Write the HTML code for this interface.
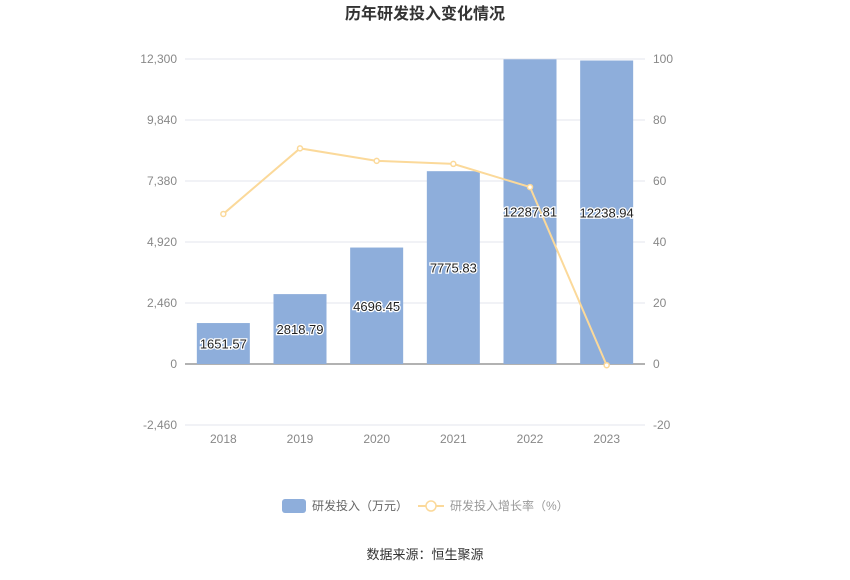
<!DOCTYPE html>
<html><head><meta charset="utf-8"><style>
body{margin:0;background:#fff;}
svg text{font-family:"Liberation Sans","Noto Sans CJK SC",sans-serif;}
</style></head><body>
<svg width="850" height="575" xmlns="http://www.w3.org/2000/svg">
<text x="425" y="19" text-anchor="middle" font-size="16" font-weight="bold" fill="#333">历年研发投入变化情况</text>
<g id="grid"></g>
<g id="bars"></g>
<g id="line"></g>
<g id="labels"></g>
<g>
<rect x="282" y="499" width="24" height="14" rx="3" fill="#8eaedb"/>
<text x="312" y="510" font-size="12" fill="#666">研发投入（万元）</text>
<line x1="418" y1="506" x2="444" y2="506" stroke="#fbd99a" stroke-width="2"/>
<circle cx="431" cy="506" r="5" fill="#fff" stroke="#fbd99a" stroke-width="1.5"/>
<text x="450" y="510" font-size="12" fill="#999">研发投入增长率（%）</text>
</g>
<text x="425" y="559" text-anchor="middle" font-size="13" fill="#333">数据来源：恒生聚源</text>
</svg>
<script>
const categories=["2018","2019","2020","2021","2022","2023"];
const investment=[1651.57,2818.79,4696.45,7775.83,12287.81,12238.94];
const growth=[49.2,70.7,66.6,65.6,58.0,-0.4];
const leftTicks=[-2460,0,2460,4920,7380,9840,12300];
const rightTicks=[-20,0,20,40,60,80,100];
const NS="http://www.w3.org/2000/svg";
const x0=185,x1=645,yTop=59,yBot=425;
const yL=v=>yBot-(v+2460)/(14760)*(yBot-yTop);
const yR=v=>yBot-(v+20)/120*(yBot-yTop);
const bw=(x1-x0)/categories.length;
const xC=i=>x0+bw*(i+0.5);
function mk(tag,attrs,parent){const e=document.createElementNS(NS,tag);for(const k in attrs)e.setAttribute(k,attrs[k]);document.getElementById(parent).appendChild(e);return e;}
leftTicks.forEach(t=>{
 const y=yL(t);
 const l=mk('line',{x1:x0,x2:x1,y1:y,y2:y,stroke:t===0?'#666':'#e3e6ee','stroke-width':1},'grid');
 
 
 const tx=mk('text',{x:x0-8,y:y+4,'text-anchor':'end','font-size':12,fill:'#888'},'grid');
 tx.textContent=t.toLocaleString('en-US');
 
 
});
rightTicks.forEach(t=>{
 const tx=mk('text',{x:x1+8,y:yR(t)+4,'font-size':12,fill:'#888'},'grid');
 tx.textContent=t;
 
 
});
categories.forEach((c,i)=>{
 const tx=mk('text',{x:xC(i),y:yBot+18,'text-anchor':'middle','font-size':12,fill:'#888'},'grid');
 tx.textContent=c;
 
 
 const v=investment[i],y=yL(v),y0=yL(0);
 const r=mk('rect',{x:xC(i)-26.5,y:y,width:53,height:y0-y,fill:'#8eaedb'},'bars');
 
 
 const lb=mk('text',{x:xC(i),y:(y+y0)/2+5,'text-anchor':'middle','font-size':13,fill:'#222',stroke:'#fff','stroke-width':2.5,'paint-order':'stroke'},'labels');
 lb.textContent=v.toFixed(2);
 
 
});
const pts=growth.map((g,i)=>xC(i)+','+yR(g)).join(' ');
const pl=mk('polyline',{points:pts,fill:'none',stroke:'#fbd99a','stroke-width':2},'line');


growth.forEach((g,i)=>{
 const c=mk('circle',{cx:xC(i),cy:yR(g),r:2.5,fill:'#fff',stroke:'#fbd99a','stroke-width':1.5},'line');
 
 
});
</script>
</body></html>
